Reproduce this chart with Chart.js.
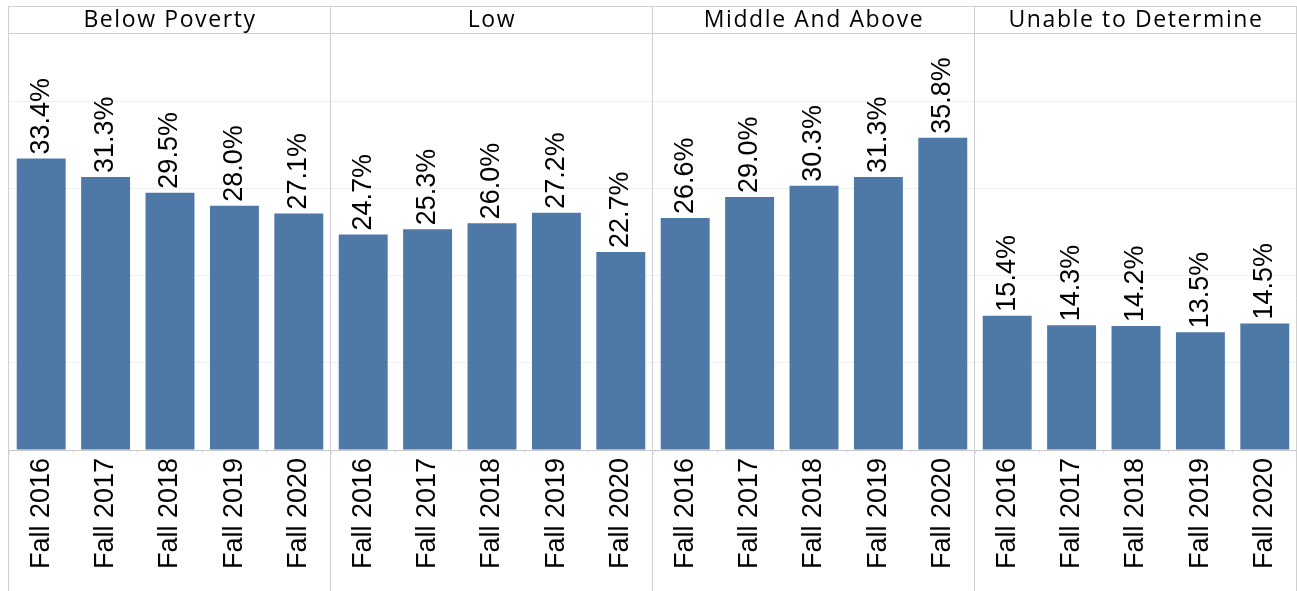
<!DOCTYPE html>
<html>
<head>
<meta charset="utf-8">
<script src="https://cdn.jsdelivr.net/npm/chart.js@4"></script>
<style>
  html, body { margin: 0; padding: 0; background: #ffffff; }
  #wrap { width: 1297px; height: 591px; position: relative; }
</style>
</head>
<body>
<div id="wrap"><canvas id="c" width="1297" height="591"></canvas></div>
<script>
const panels = ['Below Poverty', 'Low', 'Middle And Above', 'Unable to Determine'];
const terms = ['Fall 2016', 'Fall 2017', 'Fall 2018', 'Fall 2019', 'Fall 2020'];
const belowPoverty = [33.4, 31.3, 29.5, 28.0, 27.1];
const low = [24.7, 25.3, 26.0, 27.2, 22.7];
const middleAndAbove = [26.6, 29.0, 30.3, 31.3, 35.8];
const unableToDetermine = [15.4, 14.3, 14.2, 13.5, 14.5];
const yTicks = [0, 10, 20, 30, 40];

const seriesByPanel = [belowPoverty, low, middleAndAbove, unableToDetermine];
const labels = [];
const values = [];
seriesByPanel.forEach(s => { terms.forEach((t, i) => { labels.push(t); values.push(s[i]); }); });

const LABEL_FONT = '27px "Liberation Sans", Arial, sans-serif';
const HEADER_FONT = '500 23px "Open Sans", sans-serif';
const LINE = '#cfcfcf';

const facetPlugin = {
  id: 'facet',
  afterDraw(chart) {
    const ctx = chart.ctx;
    const ca = chart.chartArea;
    const xs = chart.scales.x;
    const n = terms.length;
    const headerTop = ca.top - 27;
    const bounds = [ca.left];
    for (let p = 1; p < panels.length; p++) {
      bounds.push((xs.getPixelForTick(p * n - 1) + xs.getPixelForTick(p * n)) / 2);
    }
    bounds.push(ca.right);
    ctx.save();
    ctx.strokeStyle = LINE;
    ctx.lineWidth = 1;
    ctx.beginPath();
    ctx.moveTo(ca.left, Math.round(headerTop) + 0.5);
    ctx.lineTo(ca.right, Math.round(headerTop) + 0.5);
    ctx.moveTo(ca.left, Math.round(ca.top) + 0.5);
    ctx.lineTo(ca.right, Math.round(ca.top) + 0.5);
    ctx.stroke();
    ctx.beginPath();
    bounds.forEach(b => {
      const x = Math.round(b) - 0.5;
      ctx.moveTo(x, headerTop);
      ctx.lineTo(x, chart.height);
    });
    ctx.stroke();
    ctx.fillStyle = '#000';
    ctx.font = HEADER_FONT;
    if ('letterSpacing' in ctx) ctx.letterSpacing = '1.6px';
    ctx.textAlign = 'center';
    ctx.textBaseline = 'middle';
    panels.forEach((p, i) => {
      ctx.fillText(p, (bounds[i] + bounds[i + 1]) / 2, (headerTop + ca.top) / 2 + 1);
    });
    if ('letterSpacing' in ctx) ctx.letterSpacing = '0px';
    const meta = chart.getDatasetMeta(0);
    ctx.font = LABEL_FONT;
    ctx.fillStyle = '#000';
    ctx.textAlign = 'left';
    ctx.textBaseline = 'middle';
    meta.data.forEach((bar, i) => {
      const v = chart.data.datasets[0].data[i];
      ctx.save();
      ctx.translate(bar.x, bar.y - 4);
      ctx.rotate(-Math.PI / 2);
      ctx.fillText(v.toFixed(1) + '%', 0, 0);
      ctx.restore();
    });
    ctx.restore();
  }
};

new Chart(document.getElementById('c'), {
  type: 'bar',
  data: {
    labels: labels,
    datasets: [{
      data: values,
      backgroundColor: '#4e79a7',
      borderWidth: 0,
      barPercentage: 0.76,
      categoryPercentage: 1.0
    }]
  },
  options: {
    responsive: false,
    animation: false,
    events: [],
    layout: { padding: { top: 33, left: 9, right: 0, bottom: 0 } },
    plugins: { legend: { display: false }, tooltip: { enabled: false }, title: { display: false } },
    scales: {
      x: {
        type: 'category',
        offset: true,
        grid: { offset: true, drawOnChartArea: false, drawTicks: true, tickLength: 4, color: '#e4e4e4' },
        border: { display: true, color: '#c8c8c8' },
        ticks: {
          minRotation: 90, maxRotation: 90, autoSkip: false, padding: 4,
          color: '#000', font: { family: '"Liberation Sans", Arial, sans-serif', size: 27 }
        },
        afterFit(scale) { scale.height = 141; scale.paddingLeft = 0; scale.paddingRight = 0; }
      },
      y: {
        min: 0, max: 47.8,
        afterBuildTicks(scale) { scale.ticks = yTicks.map(v => ({ value: v })); },
        grid: { drawTicks: false, color: ctx => (ctx.tick && ctx.tick.value === 0) ? 'rgba(0,0,0,0)' : '#efefef' },
        border: { display: false },
        ticks: { display: false },
        afterFit(scale) { scale.width = 0; }
      }
    }
  },
  plugins: [facetPlugin]
});
</script>
</body>
</html>
